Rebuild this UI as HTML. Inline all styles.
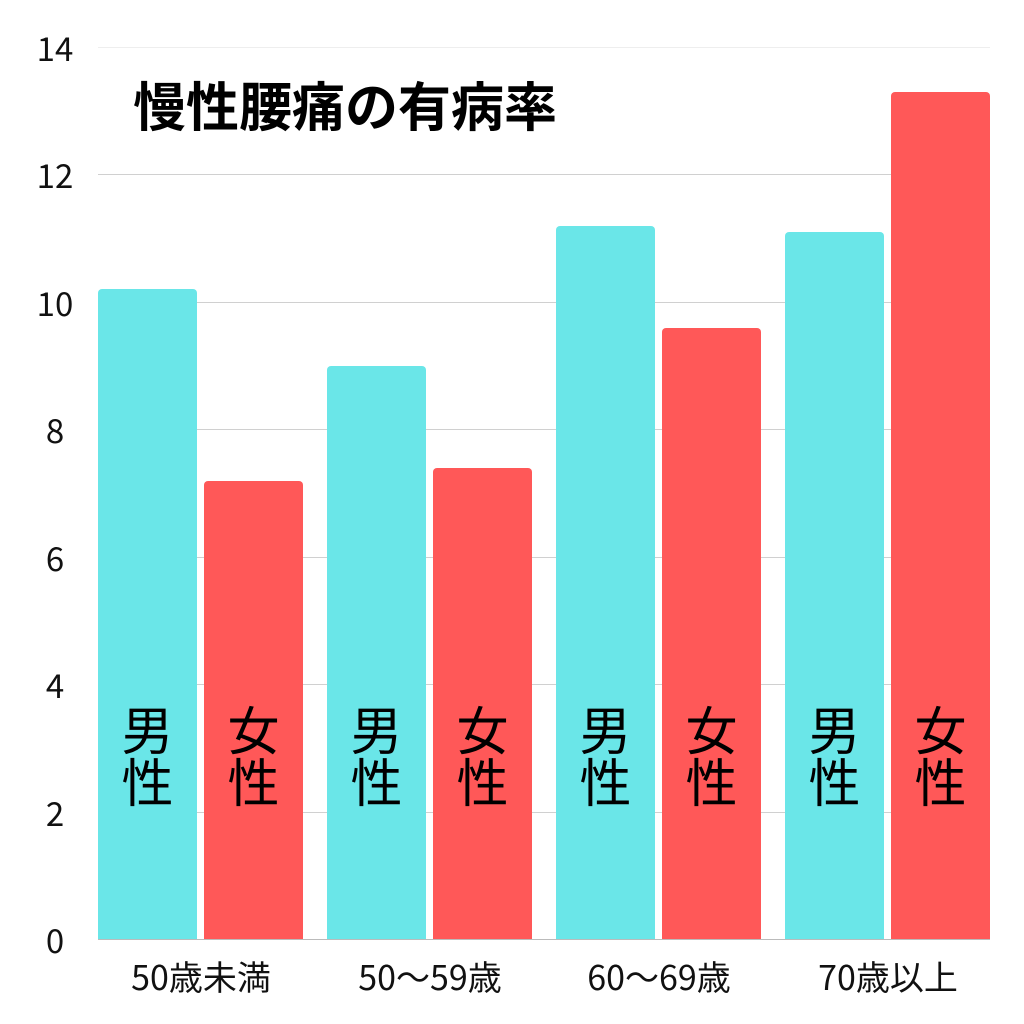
<!DOCTYPE html>
<html><head><meta charset="utf-8"><style>
body{margin:0;background:#fff;width:1024px;height:1024px;position:relative;overflow:hidden;font-family:"Liberation Sans","Noto Sans CJK JP",sans-serif}
.g{position:absolute;left:98px;width:892px;height:1px;background:#d0d0d0}
.yl{position:absolute;left:15px;width:80px;text-align:center;font-size:33px;line-height:40px;color:#111;font-family:"Noto Sans CJK JP",sans-serif}
.b{position:absolute;width:99px;bottom:85px;border-radius:4px 4px 0 0}
.m{background:#6ae6e8}.f{background:#ff5858}
.t{position:absolute;top:702px;width:99px;text-align:center;font-size:52px;line-height:52px;color:#000;font-family:"Noto Sans CJK JP",sans-serif}
.xl{position:absolute;top:954px;width:220px;text-align:center;font-size:34px;line-height:44px;color:#111;font-family:"Noto Sans CJK JP",sans-serif}
</style></head><body>
<div class="g" style="top:47px;background:#eee"></div>
<div class="g" style="top:174px"></div>
<div class="g" style="top:302px"></div>
<div class="g" style="top:429px"></div>
<div class="g" style="top:557px"></div>
<div class="g" style="top:684px"></div>
<div class="g" style="top:812px"></div>
<div class="g" style="top:939px;background:#bbb"></div>
<div class="yl" style="top:27px">14</div>
<div class="yl" style="top:154px">12</div>
<div class="yl" style="top:282px">10</div>
<div class="yl" style="top:409px">8</div>
<div class="yl" style="top:537px">6</div>
<div class="yl" style="top:664px">4</div>
<div class="yl" style="top:792px">2</div>
<div class="yl" style="top:919px">0</div>
<div style="position:absolute;left:133px;top:70px;font-size:53px;line-height:68px;font-weight:bold;font-family:'Noto Sans CJK JP',sans-serif;color:#000">慢性腰痛の有病率</div>
<div class="b m" style="left:98px;top:289px"></div>
<div class="b f" style="left:204px;top:481px"></div>
<div class="b m" style="left:327px;top:366px"></div>
<div class="b f" style="left:433px;top:468px"></div>
<div class="b m" style="left:556px;top:226px"></div>
<div class="b f" style="left:662px;top:328px"></div>
<div class="b m" style="left:785px;top:232px"></div>
<div class="b f" style="left:891px;top:92px"></div>
<div class="t" style="left:98px">男<br>性</div>
<div class="t" style="left:204px">女<br>性</div>
<div class="t" style="left:327px">男<br>性</div>
<div class="t" style="left:433px">女<br>性</div>
<div class="t" style="left:556px">男<br>性</div>
<div class="t" style="left:662px">女<br>性</div>
<div class="t" style="left:785px">男<br>性</div>
<div class="t" style="left:891px">女<br>性</div>
<div class="xl" style="left:91px">50歳未満</div>
<div class="xl" style="left:320px">50〜59歳</div>
<div class="xl" style="left:549px">60〜69歳</div>
<div class="xl" style="left:778px">70歳以上</div>
</body></html>
